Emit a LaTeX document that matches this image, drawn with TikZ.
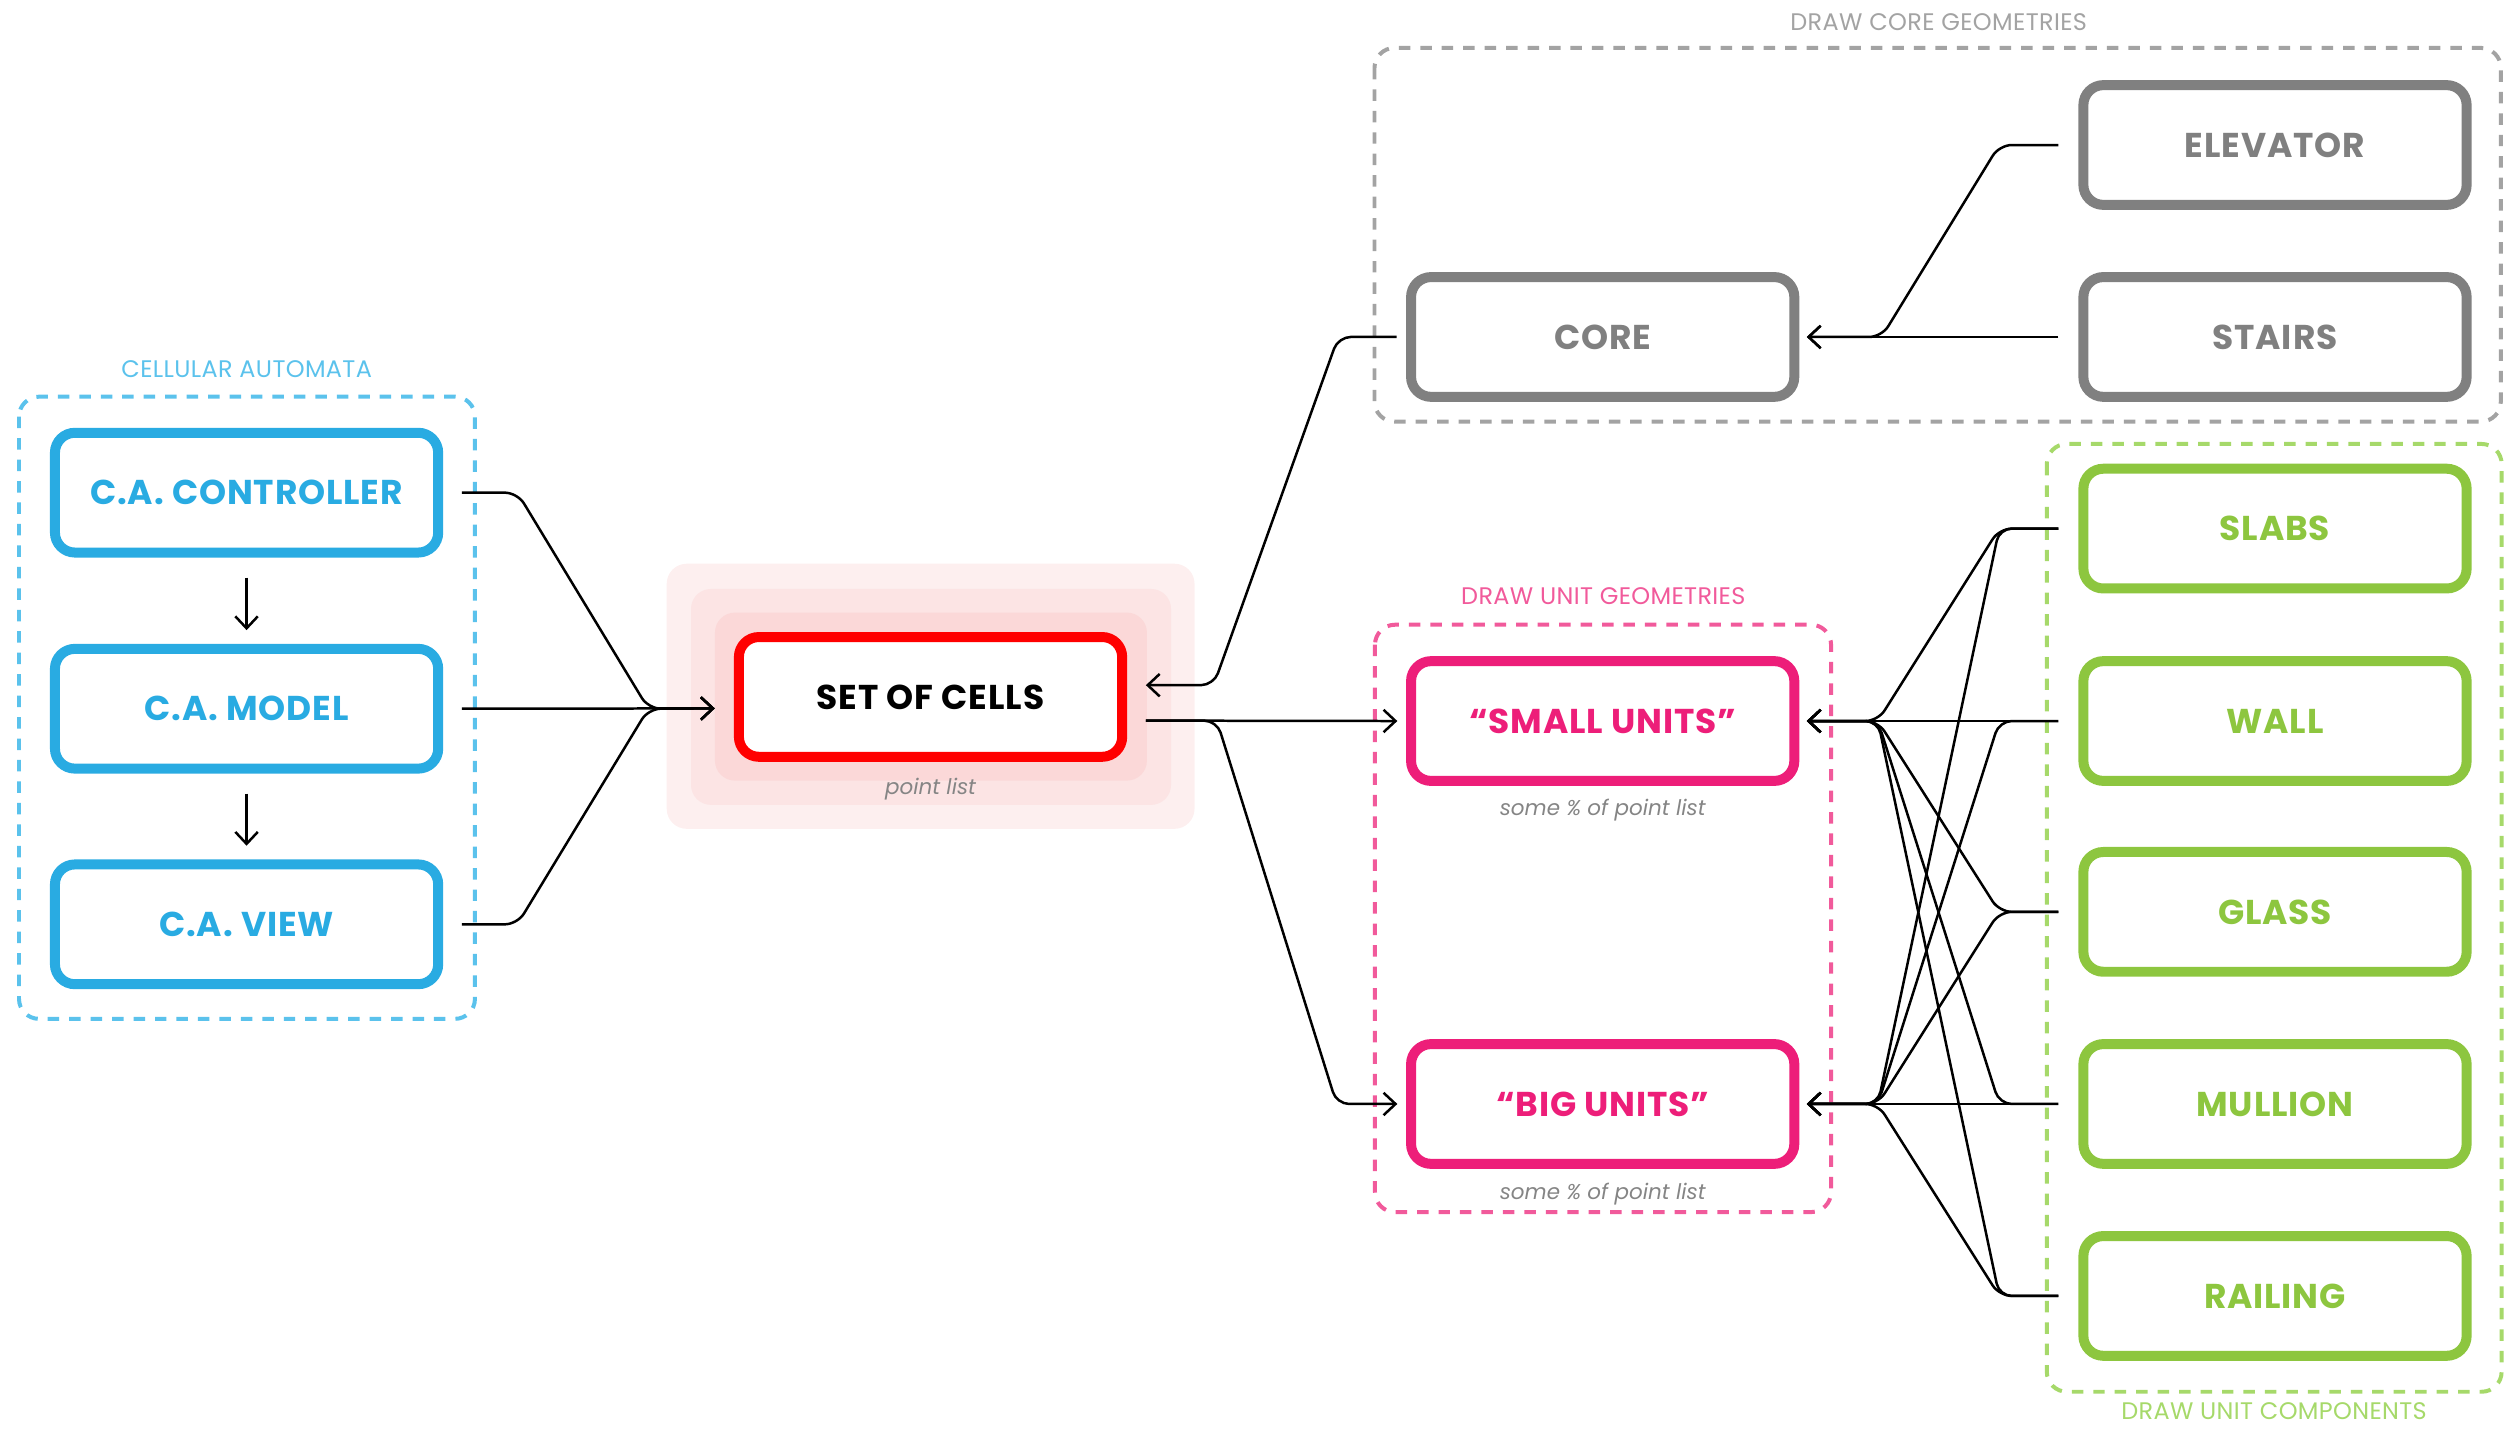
\documentclass[tikz,border=0pt]{standalone}
\usepackage{fontspec}
\setmainfont{Poppins}
\usetikzlibrary{arrows.meta}
\definecolor{cablue}{HTML}{29ABE2}
\definecolor{cabluel}{HTML}{5BC2EC}
\definecolor{cgray}{HTML}{808080}
\definecolor{cgrayl}{HTML}{A3A3A3}
\definecolor{cmag}{HTML}{ED1E79}
\definecolor{cmagl}{HTML}{F15A9B}
\definecolor{cgreen}{HTML}{8DC63F}
\definecolor{cgreenl}{HTML}{A6D96A}
\definecolor{cred}{HTML}{FF0000}
\definecolor{pinkA}{HTML}{FDEFEF}
\definecolor{pinkB}{HTML}{FCE4E4}
\definecolor{pinkC}{HTML}{FBD8D8}
\definecolor{notegray}{HTML}{858585}
\begin{document}
\begin{tikzpicture}[x=0.64pt,y=-0.64pt,
  box/.style={draw, line width=4pt, rounded corners=8pt, minimum width=153.6pt,
    minimum height=48pt, outer sep=0pt, inner sep=0pt, fill=white,
    font=\bfseries\fontsize{13.8}{16}\selectfont\addfontfeatures{LetterSpace=2.5}},
  grp/.style={line width=1.6pt, dash pattern=on 4.6pt off 4pt, rounded corners=8pt},
  grplabel/.style={font=\fontsize{9.6}{11}\selectfont\addfontfeatures{LetterSpace=1.5}, inner sep=0pt},
  note/.style={font=\itshape\fontsize{8.6}{10}\selectfont, text=notegray, inner sep=0pt},
  conn/.style={line width=1pt, rounded corners=5pt},
  arr/.style={-{Straight Barb[length=4.8pt,width=9pt]}}
]
\useasboundingbox (0,0) rectangle (1568,895);

% groups
\draw[grp, cabluel] (11.9,248.4) rectangle (297.4,638);
\node[grplabel, text=cabluel] (lca) at (154.5,231.3) {CELLULAR AUTOMATA};
\draw[grp, cgrayl] (860.7,30) rectangle (1566,264);
\node[grplabel, text=cgrayl] (lcore) at (1214,13.6) {DRAW CORE GEOMETRIES};
\draw[grp, cmagl] (861,391.2) rectangle (1146.6,759);
\node[grplabel, text=cmagl] (lunit) at (1004,373.6) {DRAW UNIT GEOMETRIES};
\draw[grp, cgreenl] (1281.7,278) rectangle (1566.5,871.5);
\node[grplabel, text=cgreenl] (lcomp) at (1424,883.6) {DRAW UNIT COMPONENTS};

% pink halo
\fill[pinkA, rounded corners=8pt] (417.5,353) rectangle (748,519);
\fill[pinkB, rounded corners=8pt] (432.7,368.8) rectangle (733.3,504);
\fill[pinkC, rounded corners=8pt] (447.7,383.6) rectangle (718.2,488.8);

% nodes
\node[box, draw=cablue, text=cablue] (ctrl) at (154.4,308.5) {C.A. CONTROLLER};
\node[box, draw=cablue, text=cablue] (model) at (154.4,443.8) {C.A. MODEL};
\node[box, draw=cablue, text=cablue] (view) at (154.4,578.8) {C.A. VIEW};
\node[box, draw=cred, text=black] (cells) at (582.7,436.4) {SET OF CELLS};
\node[note] (pl) at (582.7,494) {point list};
\node[box, draw=cgray, text=cgray] (core) at (1003.6,211) {CORE};
\node[box, draw=cgray, text=cgray] (elev) at (1424.6,90.8) {ELEVATOR};
\node[box, draw=cgray, text=cgray] (stairs) at (1424.6,211) {STAIRS};
\node[box, draw=cmag, text=cmag] (small) at (1003.6,451.5) {“SMALL UNITS”};
\node[note] (ns) at (1003.6,507) {some \% of point list};
\node[box, draw=cmag, text=cmag] (big) at (1003.6,691.3) {“BIG UNITS”};
\node[note] (nb) at (1003.6,747.8) {some \% of point list};
\node[box, draw=cgreen, text=cgreen] (slabs) at (1424.6,331) {SLABS};
\node[box, draw=cgreen, text=cgreen] (wall) at (1424.6,451.5) {WALL};
\node[box, draw=cgreen, text=cgreen] (glass) at (1424.6,571) {GLASS};
\node[box, draw=cgreen, text=cgreen] (mullion) at (1424.6,691.3) {MULLION};
\node[box, draw=cgreen, text=cgreen] (railing) at (1424.6,811.5) {RAILING};

% CA internal arrows
\draw[line width=1pt, arr] ([yshift=-10pt]ctrl.south) -- ([yshift=7.5pt]model.north);
\draw[line width=1pt, arr] ([yshift=-10pt]model.south) -- ([yshift=7.5pt]view.north);

% CA -> cells
\draw[conn, arr] ([xshift=9.5pt]ctrl.east) -- (324,308.5) -- (406,443.8) -- ([xshift=-9.7pt,yshift=-4.6pt]cells.west);
\draw[conn, arr] ([xshift=9.5pt]model.east) -- ([xshift=-9.7pt,yshift=-4.6pt]cells.west);
\draw[conn, arr] ([xshift=9.5pt]view.east) -- (324,578.8) -- (406,443.8) -- ([xshift=-9.7pt,yshift=-4.6pt]cells.west);

% core -> cells
\draw[conn, arr] ([xshift=-5.8pt]core.west) -- (838,211) -- (760,429) -- ([xshift=9.5pt,yshift=4.7pt]cells.east);
% cells -> units
\draw[conn, arr] ([xshift=9.5pt,yshift=-9.5pt]cells.east) -- ([xshift=-5.5pt]small.west);
\draw[conn, arr] ([xshift=9.5pt,yshift=-9.5pt]cells.east) -- (762,451.3) -- (837,691.3) -- ([xshift=-5.5pt]big.west);

% elevator/stairs -> core
\draw[conn, arr] ([xshift=-10pt]elev.west) -- ([xshift=-33.7pt]elev.west) -- ([xshift=35pt]core.east) -- ([xshift=5pt]core.east);
\draw[conn, arr] ([xshift=-10pt]stairs.west) -- ([xshift=5pt]core.east);

% components -> units
\foreach \c in {slabs,wall,glass,mullion,railing}{
  \foreach \u in {small,big}{
    \draw[conn, arr] ([xshift=-10pt]\c.west) -- ([xshift=-33.7pt]\c.west) -- ([xshift=33.5pt]\u.east) -- ([xshift=5pt]\u.east);
  }
}
\end{tikzpicture}
\end{document}
